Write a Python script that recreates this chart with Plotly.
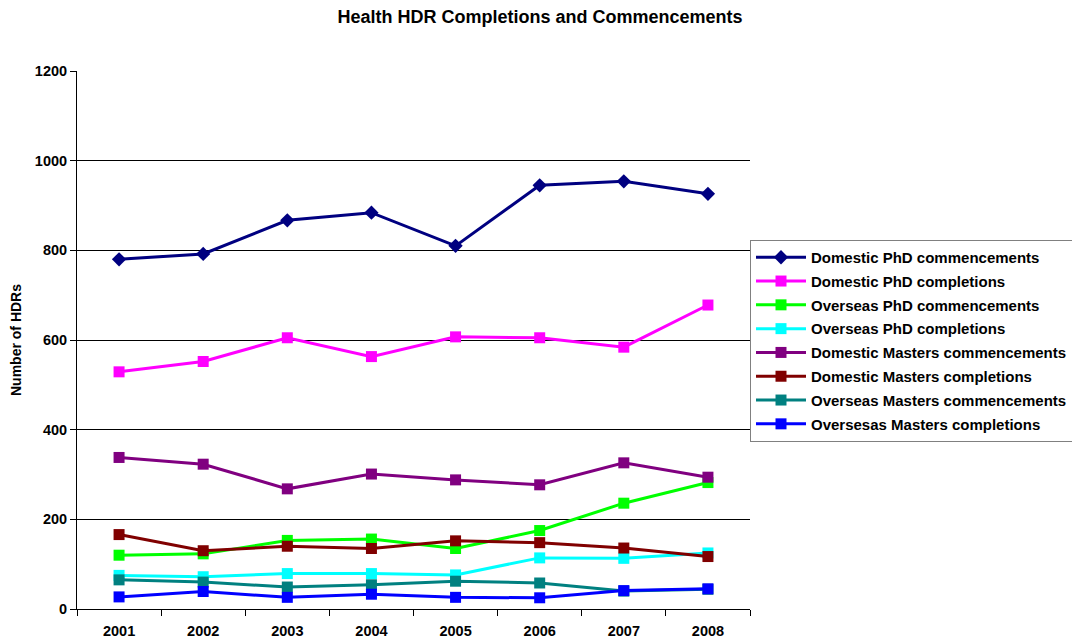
import plotly.graph_objects as go

years = ["2001", "2002", "2003", "2004", "2005", "2006", "2007", "2008"]
dom_phd_comm = [780, 792, 867, 884, 810, 945, 954, 926]
dom_phd_comp = [529, 552, 605, 563, 607, 605, 584, 678]
ovs_phd_comm = [120, 123, 153, 156, 135, 175, 236, 282]
ovs_phd_comp = [75, 72, 79, 79, 76, 114, 113, 125]
dom_mas_comm = [338, 323, 268, 301, 288, 277, 326, 294]
dom_mas_comp = [166, 130, 140, 135, 152, 148, 136, 117]
ovs_mas_comm = [65, 60, 49, 54, 62, 58, 40, 44]
ovs_mas_comp = [27, 39, 26, 33, 26, 25, 41, 45]

series = [
    ("Domestic PhD commencements", dom_phd_comm, "#000080", "diamond"),
    ("Domestic PhD completions", dom_phd_comp, "#FF00FF", "square"),
    ("Overseas PhD commencements", ovs_phd_comm, "#00FF00", "square"),
    ("Overseas PhD completions", ovs_phd_comp, "#00FFFF", "square"),
    ("Domestic Masters commencements", dom_mas_comm, "#800080", "square"),
    ("Domestic Masters completions", dom_mas_comp, "#800000", "square"),
    ("Overseas Masters commencements", ovs_mas_comm, "#008080", "square"),
    ("Oversesas Masters completions", ovs_mas_comp, "#0000FF", "square"),
]

fig = go.Figure()
for i, (name, vals, color, sym) in enumerate(series):
    fig.add_trace(go.Scatter(
        x=years, y=vals, name=name, mode="lines+markers", legendgroup=f"g{i}",
        line=dict(color=color, width=3),
        marker=dict(symbol=sym, size=11, color=color),
    ))

font_family = "Liberation Sans, Arial, sans-serif"
fig.update_layout(
    width=1080, height=642,
    paper_bgcolor="white", plot_bgcolor="white",
    margin=dict(l=69, r=338, t=63, b=41, autoexpand=False),
    title=dict(text="Health HDR Completions and Commencements", x=0.4926, xanchor="center",
               xref="container",
               y=0.986, yanchor="middle",
               font=dict(family=font_family, size=18, color="black", weight="bold")),
    font=dict(family=font_family, size=13, color="black"),
    legend=dict(x=1.0, xanchor="left", y=0.6859, yanchor="top",
                bordercolor="#808080", borderwidth=1, bgcolor="white",
                font=dict(family=font_family, size=15, color="black", weight="bold"),
                tracegroupgap=1.3, itemwidth=50),
    showlegend=True,
)
fig.update_xaxes(
    type="category", range=[-0.5, 7.5], automargin=False,
    showline=True, linecolor="black", linewidth=1,
    ticks="outside", tickson="boundaries", ticklen=6, tickcolor="black",
    ticklabelstandoff=9,
    tickfont=dict(family=font_family, size=14.5, color="black", weight="bold"),
    showgrid=False,
)
fig.update_yaxes(
    range=[0, 1200], dtick=200, automargin=False,
    showline=True, linecolor="black", linewidth=1,
    ticks="outside", ticklen=6, tickcolor="black",
    showgrid=True, gridcolor="black", gridwidth=1,
    zeroline=False,
    tickfont=dict(family=font_family, size=14.5, color="black", weight="bold"),
    title=dict(text="Number of HDRs", standoff=16,
               font=dict(family=font_family, size=14, color="black", weight="bold")),
)
fig.write_html("out.html")
